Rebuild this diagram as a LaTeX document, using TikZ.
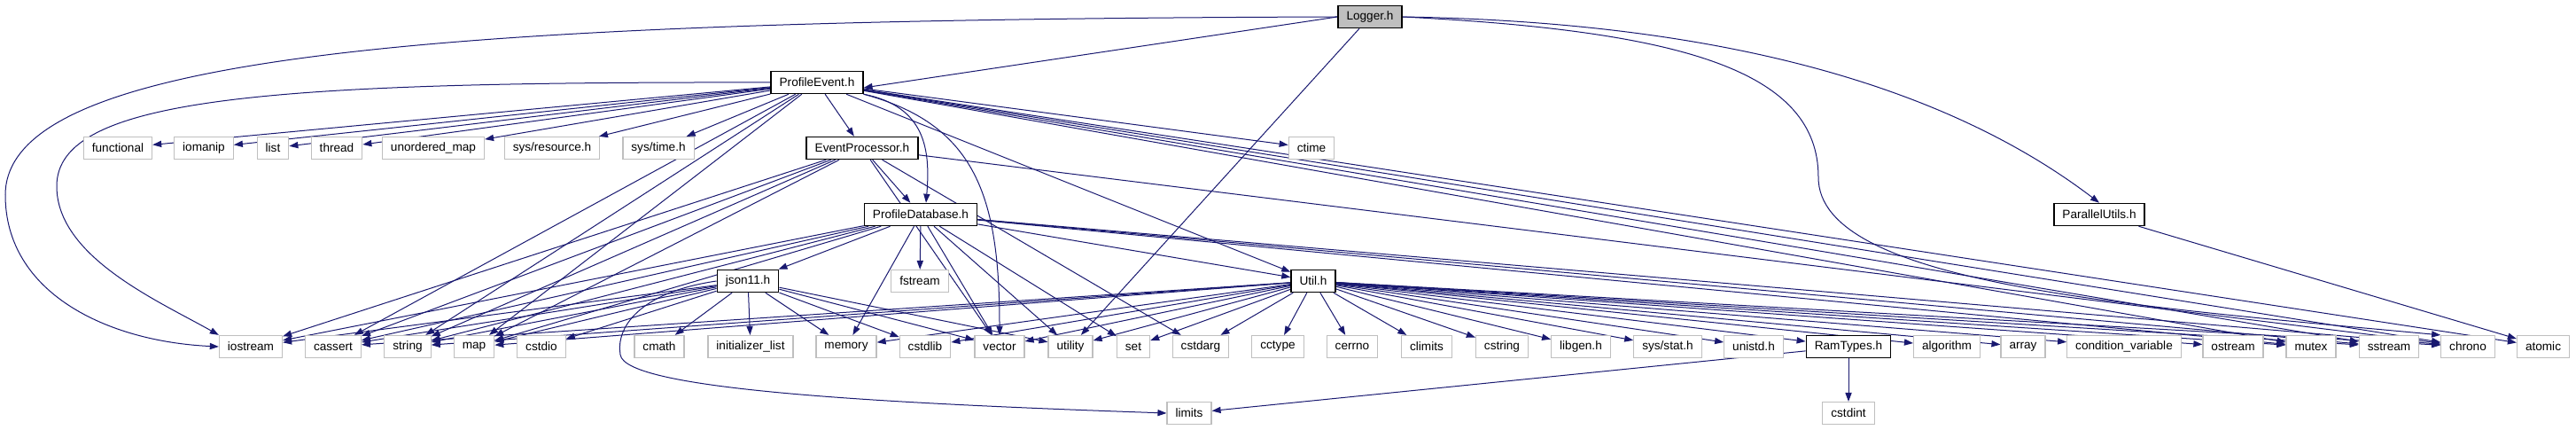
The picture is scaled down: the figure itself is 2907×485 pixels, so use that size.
\documentclass[tikz,border=0pt]{standalone}
\usepackage{fontspec}
\setmainfont{Liberation Sans}
\usepackage{xcolor}
\definecolor{edge}{HTML}{191970}
\definecolor{frame}{HTML}{BFBFBF}
\usetikzlibrary{arrows.meta, backgrounds}
\tikzset{
  >={Triangle[length=5pt, width=3.6pt]},
  file/.style={draw, fill=white, font=\fontsize{6.8pt}{8pt}\selectfont, inner xsep=4.75pt,
    inner ysep=0pt, minimum height=12.5pt},
  hdr/.style={file, draw=black, line width=0.75pt},
  root/.style={hdr, fill=frame},
  sys/.style={file, draw=frame, line width=0.6pt},
  dep/.style={->, line width=0.5pt, color=edge},
}

\begin{document}
\begin{tikzpicture}[x=0.5pt, y=-0.5pt]
  \useasboundingbox (0,0) rectangle (2907,485);

  % Project headers.
  \node[root] (lg) at (1546,19) {Logger.h};
  \node[hdr] (pe) at (922,93) {ProfileEvent.h};
  \node[hdr] (ep) at (973,167) {EventProcessor.h};
  \node[hdr] (pd) at (1039,242) {ProfileDatabase.h};
  \node[hdr] (pu) at (2369,242) {ParallelUtils.h};
  \node[hdr] (js) at (844,317) {json11.h};
  \node[hdr] (ut) at (1482,317) {Util.h};
  \node[hdr] (rt) at (2086,391) {RamTypes.h};

  % System headers, row by row.
  \foreach \n/\x/\t in {functional/133/functional, iomanip/230/iomanip, list/308/list,
      thread/380/thread, umap/489/unordered\_map, sysres/623/{sys/resource.h},
      systime/743/{sys/time.h}, ctime/1480/ctime}
    \node[sys] (\n) at (\x,167) {\t};
  \node[sys] (fstream) at (1038,317) {fstream};
  \foreach \n/\x/\t in {iostream/283/iostream, cassert/376/cassert, string/460/string,
      map/535/map, cstdio/611/cstdio, cmath/744/cmath, initlist/847/initializer\_list,
      memory/955/memory, cstdlib/1044/cstdlib, vector/1128/vector, utility/1208/utility,
      set/1279/set, cstdarg/1355/cstdarg, cctype/1442/cctype, cerrno/1526/cerrno,
      climits/1610/climits, cstring/1695/cstring, libgen/1784/libgen.h,
      sysstat/1882/{sys/stat.h}, unistd/1979/unistd.h, algorithm/2197/algorithm,
      array/2283/array, condvar/2397/condition\_variable, ostream/2520/ostream,
      mutex/2608/mutex, sstream/2696/sstream, chrono/2785/chrono, atomic/2870/atomic}
    \node[sys] (\n) at (\x,391) {\t};
  \node[sys] (limits) at (1342,466) {limits};
  \node[sys] (cstdint) at (2086,466) {cstdint};

  \begin{scope}[on background layer]
    % Logger.h
    \draw[dep] (lg.west) -- ([yshift=-3pt]pe.east);
    \draw[dep] (lg) -- (utility);
    \draw[dep] (lg.west) .. controls (500,22) and (6,60) .. (6,220)
      .. controls (6,330) and (120,385) .. (iostream.west);
    \draw[dep] (lg.east) .. controls (1950,25) and (2200,100) .. (pu.north);
    \draw[dep] (lg.east) .. controls (1900,35) and (2052,80) .. (2052,200)
      .. controls (2052,320) and (2400,345) .. (chrono.north west);

    % ProfileEvent.h
    \foreach \t in {functional,iomanip,list,thread,umap,sysres,systime,ep,ctime,ut,
        cassert,string,map,atomic,chrono,mutex,sstream}
      \draw[dep] (pe) -- (\t);
    \draw[dep] (pe.west) .. controls (300,92) and (64,110) .. (64,210)
      .. controls (64,290) and (180,340) .. (iostream.north west);
    \draw[dep] (pe.south east) .. controls (1045,120) and (1050,170) .. ([xshift=3pt]pd.north);
    \draw[dep] (pe.south east) .. controls (1100,140) and (1128,220) .. (vector.north);

    % EventProcessor.h
    \foreach \t in {pd,cassert,cstdarg,iostream,map,string,vector,chrono}
      \draw[dep] (ep) -- (\t);

    % ProfileDatabase.h
    \foreach \t in {ut,js,fstream,iostream,cassert,string,map,memory,vector,utility,set,
        chrono,mutex,sstream}
      \draw[dep] (pd) -- (\t);

    % json11.h
    \foreach \t in {iostream,cassert,string,map,cstdio,cmath,initlist,memory,cstdlib,
        vector,utility}
      \draw[dep] (js) -- (\t);
    \draw[dep] (js.west) .. controls (720,330) and (695,370) .. (700,400)
      .. controls (705,440) and (1000,455) .. (limits.west);

    % Util.h
    \foreach \t in {rt,algorithm,array,cassert,cctype,cerrno,chrono,climits,condvar,
        cstdarg,cstdlib,cstring,map,memory,mutex,ostream,set,sstream,string,utility,
        vector,libgen,sysstat,unistd}
      \draw[dep] (ut) -- (\t);

    \draw[dep] (rt) -- (limits);
    \draw[dep] (rt) -- (cstdint);
    \draw[dep] (pu) -- (atomic);
  \end{scope}
\end{tikzpicture}
\end{document}
